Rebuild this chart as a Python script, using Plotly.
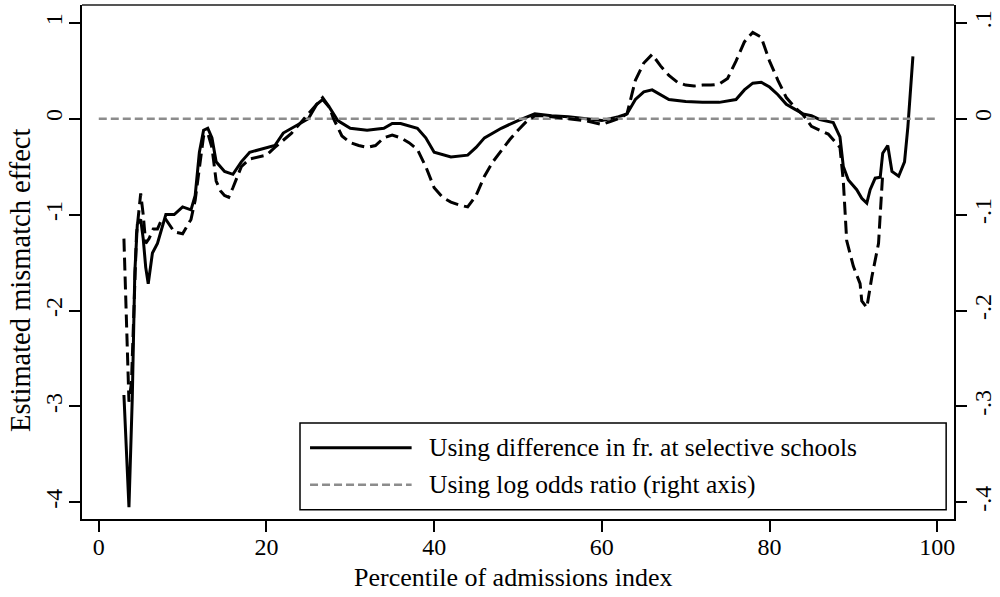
import plotly.graph_objects as go

# Percentile of admissions index (x) and the two mismatch-effect estimates
pct_diff = [3.0, 3.6, 4.0, 4.3, 4.6, 5.0, 5.3, 5.6, 5.9, 6.4, 7.0, 8.0, 9.0, 10.0,
            11.0, 11.5, 12.0, 12.5, 13.0, 13.5, 14.0, 15.0, 16.0, 17.0, 18.0, 20.0,
            21.0, 22.0, 24.0, 25.0, 26.0, 26.7, 27.5, 28.5, 30.0, 32.0, 34.0, 35.0,
            36.0, 38.0, 39.0, 40.0, 42.0, 44.0, 45.0, 46.0, 48.0, 50.0, 52.0, 54.0,
            56.0, 58.0, 60.0, 62.0, 63.0, 64.0, 65.0, 66.0, 67.0, 68.0, 70.0, 72.0,
            74.0, 76.0, 77.0, 78.0, 79.0, 80.0, 81.0, 82.0, 83.0, 84.0, 85.0, 86.0,
            87.6, 88.4, 88.8, 89.4, 90.4, 91.0, 91.6, 92.0, 92.6, 93.2, 93.5, 94.1,
            94.6, 95.4, 96.1, 96.5, 97.1]
effect_diff = [-2.88, -4.05, -2.9, -1.6, -1.1, -1.05, -1.25, -1.55, -1.72, -1.4, -1.3,
               -1.0, -1.0, -0.92, -0.95, -0.8, -0.35, -0.12, -0.1, -0.2, -0.45, -0.55,
               -0.58, -0.45, -0.35, -0.3, -0.28, -0.15, -0.05, 0.0, 0.15, 0.2, 0.12,
               -0.02, -0.1, -0.12, -0.1, -0.05, -0.05, -0.1, -0.2, -0.35, -0.4, -0.38,
               -0.3, -0.2, -0.1, -0.02, 0.05, 0.03, 0.02, 0.0, -0.02, 0.02, 0.05, 0.2,
               0.28, 0.3, 0.25, 0.2, 0.18, 0.17, 0.17, 0.2, 0.3, 0.37, 0.38, 0.33, 0.25,
               0.15, 0.1, 0.05, 0.03, -0.01, -0.04, -0.19, -0.5, -0.64, -0.74, -0.83,
               -0.88, -0.74, -0.62, -0.61, -0.36, -0.28, -0.55, -0.6, -0.45, -0.085, 0.65]

pct_logodds = [3.0, 3.3, 3.6, 3.9, 4.2, 4.5, 4.8, 5.0, 5.3, 5.6, 6.0, 6.5, 7.0, 7.5,
               8.0, 9.0, 10.0, 11.0, 11.5, 12.0, 12.5, 13.0, 13.5, 14.0, 14.5, 15.0,
               15.5, 16.0, 17.0, 18.0, 19.0, 20.0, 21.0, 22.0, 23.0, 24.0, 25.0, 26.0,
               26.7, 27.5, 28.0, 29.0, 30.0, 31.0, 32.0, 33.0, 34.0, 35.0, 36.0, 37.0,
               38.0, 39.0, 40.0, 41.0, 42.0, 43.0, 44.0, 45.0, 46.0, 47.0, 48.0, 49.0,
               50.0, 51.0, 52.0, 53.0, 54.0, 55.0, 56.0, 57.0, 58.0, 59.0, 60.0, 61.0,
               62.0, 63.0, 64.0, 65.0, 66.0, 67.0, 68.0, 69.0, 70.0, 71.0, 72.0, 73.0,
               74.0, 75.0, 76.0, 77.0, 78.0, 79.0, 80.0, 81.0, 82.0, 83.0, 84.0, 85.0,
               86.0, 87.0, 88.0, 88.4, 88.8, 89.2, 90.0, 90.8, 91.0, 91.6, 92.2, 93.0,
               93.2, 93.4, 93.5]
effect_logodds = [-0.125, -0.22, -0.295, -0.275, -0.19, -0.12, -0.095, -0.078, -0.1,
                  -0.13, -0.125, -0.115, -0.115, -0.105, -0.105, -0.118, -0.12, -0.105,
                  -0.085, -0.05, -0.018, -0.015, -0.03, -0.065, -0.075, -0.08, -0.082,
                  -0.072, -0.05, -0.042, -0.04, -0.038, -0.03, -0.022, -0.015, -0.005,
                  0.005, 0.015, 0.022, 0.012, 0.0, -0.018, -0.025, -0.028, -0.03,
                  -0.028, -0.02, -0.017, -0.02, -0.025, -0.032, -0.05, -0.072, -0.082,
                  -0.087, -0.09, -0.092, -0.08, -0.06, -0.045, -0.033, -0.022, -0.012,
                  -0.003, 0.003, 0.003, 0.002, 0.001, 0.0, -0.001, -0.002, -0.004,
                  -0.006, -0.003, 0.0, 0.005, 0.04, 0.058, 0.067, 0.055, 0.045, 0.038,
                  0.035, 0.034, 0.035, 0.035, 0.036, 0.042, 0.06, 0.08, 0.09, 0.085,
                  0.06, 0.04, 0.022, 0.012, 0.004, -0.008, -0.012, -0.016, -0.026,
                  -0.03, -0.065, -0.127, -0.154, -0.172, -0.19, -0.197, -0.165, -0.13,
                  -0.1, -0.065, -0.057]

# Zero reference on the right axis
pct_ref = [0, 100]
ref_logodds = [0.0, 0.0]

left_ticks = [-4, -3, -2, -1, 0, 1]
left_labels = ["-4", "-3", "-2", "-1", "0", "1"]
right_ticks = [-0.4, -0.3, -0.2, -0.1, 0.0, 0.1]
right_labels = ["-.4", "-.3", "-.2", "-.1", "0", ".1"]
x_ticks = [0, 20, 40, 60, 80, 100]

legend_labels = ["Using difference in fr. at selective schools",
                 "Using log odds ratio (right axis)"]

SERIF = "Liberation Serif"

fig = go.Figure()

fig.add_trace(go.Scatter(
    x=pct_ref, y=ref_logodds, yaxis="y2", mode="lines",
    line=dict(color="#8c8c8c", width=2.5, dash="8px,4px"),
    showlegend=False, hoverinfo="skip"))

fig.add_trace(go.Scatter(
    x=pct_logodds, y=effect_logodds, yaxis="y2", mode="lines",
    line=dict(color="black", width=3, dash="13px,6px"),
    showlegend=False))

fig.add_trace(go.Scatter(
    x=pct_diff, y=effect_diff, mode="lines",
    line=dict(color="black", width=3),
    showlegend=False))

axis_common = dict(
    ticks="outside", ticklen=11, tickwidth=1.5, tickcolor="black",
    showgrid=False, zeroline=False, showline=True, linecolor="black",
    linewidth=2, tickfont=dict(family=SERIF, size=24, color="black"),
)

fig.update_layout(
    width=1000, height=597,
    margin=dict(l=82, r=46, t=5, b=78),
    paper_bgcolor="white", plot_bgcolor="white",
    xaxis=dict(range=[-2, 102], tickvals=x_ticks, ticklabelstandoff=-6, **axis_common),
    yaxis=dict(range=[-4.173, 1.185], tickvals=left_ticks, ticktext=left_labels,
               tickangle=-90, ticklabelstandoff=-3, **axis_common),
    yaxis2=dict(range=[-0.4173, 0.1185], tickvals=right_ticks, ticktext=right_labels,
                tickangle=-90, ticklabelstandoff=-5, overlaying="y", side="right",
                **axis_common),
    showlegend=False,
)

# Top edge of the plot region
fig.add_shape(type="line", xref="paper", yref="paper", x0=0, x1=1, y0=1, y1=1,
              line=dict(color="#555555", width=2))

# Legend box with line samples and labels
fig.add_shape(type="rect", xref="paper", yref="paper",
              x0=0.25, x1=0.991, y0=0.018, y1=0.1866,
              line=dict(color="black", width=1.5), fillcolor="white", layer="above")
fig.add_shape(type="line", xref="paper", yref="paper",
              x0=0.2615, x1=0.378, y0=0.1386, y1=0.1386,
              line=dict(color="black", width=3), layer="above")
fig.add_shape(type="line", xref="paper", yref="paper",
              x0=0.2615, x1=0.378, y0=0.0667, y1=0.0667,
              line=dict(color="#8c8c8c", width=2.5, dash="8px,4px"), layer="above")
for label, ypos in zip(legend_labels, [0.1386, 0.0667]):
    fig.add_annotation(text=label, xref="paper", yref="paper", x=0.3956, y=ypos,
                       xanchor="left", yanchor="middle", showarrow=False,
                       font=dict(family=SERIF, size=25.5, color="black"))

# Axis titles
fig.add_annotation(text="Estimated mismatch effect", xref="paper", yref="paper",
                   x=-0.07, y=0.465, textangle=-90, xanchor="center",
                   yanchor="middle", showarrow=False,
                   font=dict(family=SERIF, size=28.5, color="black"))
fig.add_annotation(text="Percentile of admissions index", xref="paper", yref="paper",
                   x=0.4937, y=-0.114, xanchor="center", yanchor="middle",
                   showarrow=False, font=dict(family=SERIF, size=26, color="black"))

fig.write_html("out.html")
